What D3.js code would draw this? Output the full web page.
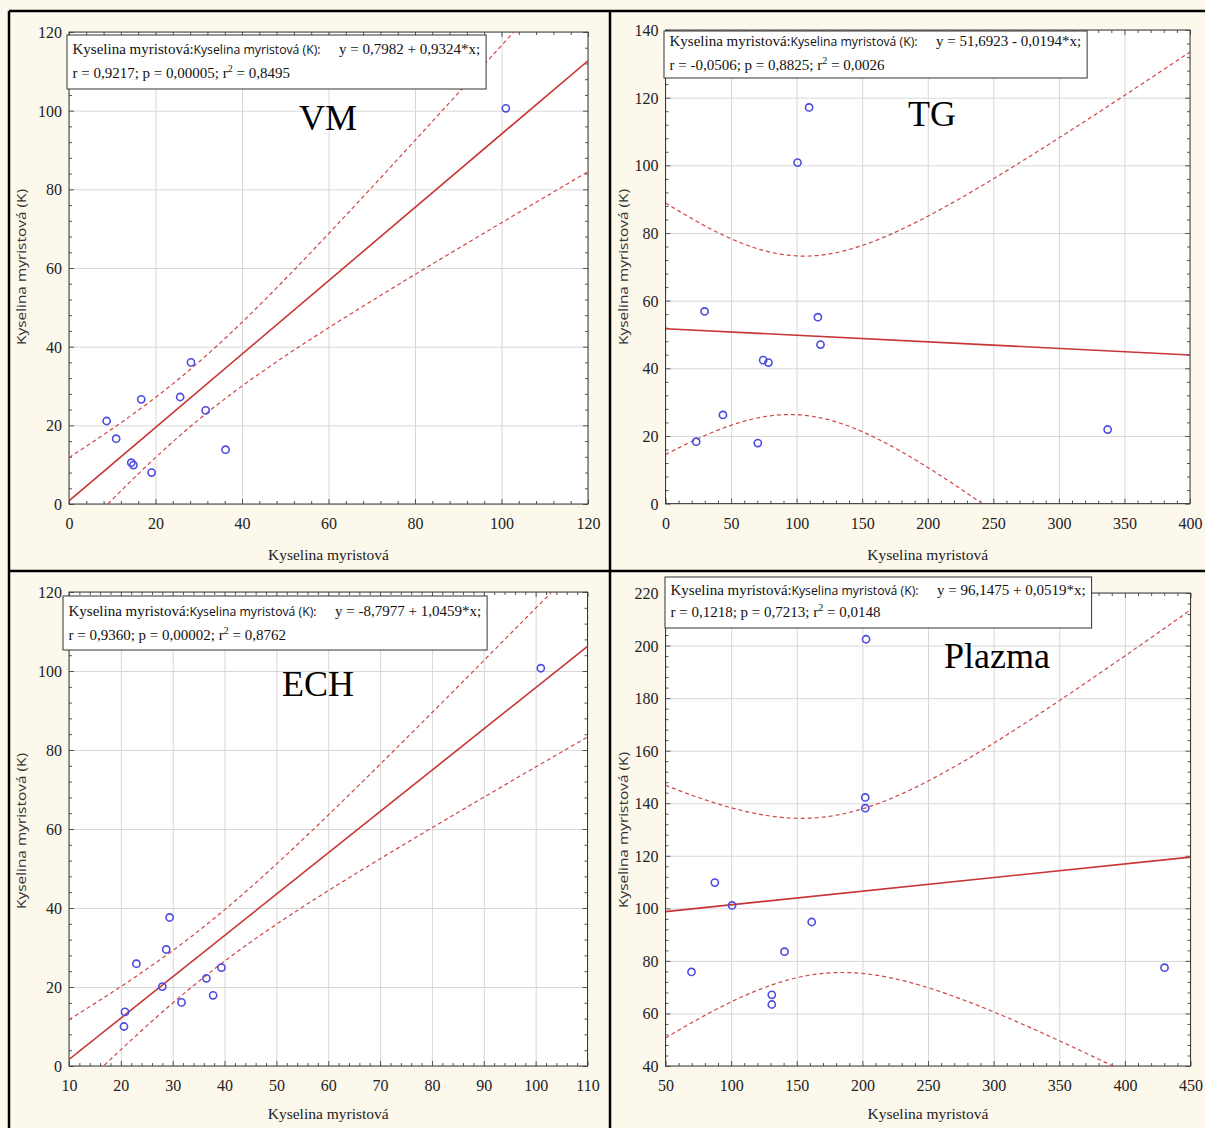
<!DOCTYPE html>
<html>
<head>
<meta charset="utf-8">
<script src="https://cdn.jsdelivr.net/npm/d3@7"></script>
<style>
  html, body { margin: 0; padding: 0; background: #fdf8ec; }
  svg { display: block; }
</style>
</head>
<body>
<svg id="chart" width="1205" height="1128"></svg>
<script>
// Kyselina myristová – paired values (x: compartment, y: K) for each panel
const vmX  = [8.7, 10.9, 14.4, 14.9, 16.7, 19.1, 25.7, 28.2, 31.6, 36.2, 101.0];
const vmY  = [21.1, 16.6, 10.5, 9.9, 26.6, 8.0, 27.2, 36.0, 23.8, 13.8, 100.6];
const tgX  = [23.4, 29.8, 43.8, 70.4, 74.5, 78.5, 100.7, 109.5, 116.2, 118.2, 337.2];
const tgY  = [18.3, 56.8, 26.2, 17.9, 42.4, 41.7, 100.8, 117.1, 55.1, 47.0, 21.9];
const echX = [20.6, 20.8, 23.0, 28.0, 28.75, 29.4, 31.7, 36.5, 37.8, 39.4, 101.0];
const echY = [10.0, 13.7, 25.9, 20.1, 29.5, 37.6, 16.1, 22.2, 17.9, 24.9, 100.7];
const plX  = [69.8, 87.6, 100.7, 131.0, 131.0, 140.7, 161.4, 202.2, 202.2, 202.8, 430.2];
const plY  = [75.8, 109.8, 101.1, 67.1, 63.4, 83.5, 94.8, 138.1, 142.2, 202.4, 77.4];

// Panel names and regression results
const panelNames = ["VM", "TG", "ECH", "Plazma"];
const intercepts = [0.7982, 51.6923, -8.7977, 96.1475];
const slopes     = [0.9324, -0.0194, 1.0459, 0.0519];
const equations  = ["y = 0,7982 + 0,9324*x;", "y = 51,6923 - 0,0194*x;",
                    "y = -8,7977 + 1,0459*x;", "y = 96,1475 + 0,0519*x;"];
const rValues    = ["0,9217", "-0,0506", "0,9360", "0,1218"];
const pValues    = ["0,00005", "0,8825", "0,00002", "0,7213"];
const r2Values   = ["0,8495", "0,0026", "0,8762", "0,0148"];

// Axis ticks
const vmXTicks  = [0, 20, 40, 60, 80, 100, 120];
const vmYTicks  = [0, 20, 40, 60, 80, 100, 120];
const tgXTicks  = [0, 50, 100, 150, 200, 250, 300, 350, 400];
const tgYTicks  = [0, 20, 40, 60, 80, 100, 120, 140];
const echXTicks = [10, 20, 30, 40, 50, 60, 70, 80, 90, 100, 110];
const echYTicks = [0, 20, 40, 60, 80, 100, 120];
const plXTicks  = [50, 100, 150, 200, 250, 300, 350, 400, 450];
const plYTicks  = [40, 60, 80, 100, 120, 140, 160, 180, 200, 220];

const xLabel = "Kyselina myristová";
const yLabel = "Kyselina myristová (K)";
const legendHead = "Kyselina myristová:";
const legendSans = "Kyselina myristová (K):";

const seriesX = [vmX, tgX, echX, plX];
const seriesY = [vmY, tgY, echY, plY];
const xTickSets = [vmXTicks, tgXTicks, echXTicks, plXTicks];
const yTickSets = [vmYTicks, tgYTicks, echYTicks, plYTicks];

// Layout of each panel (pixel frame of the plot area, legend box, title)
const layout = [
  { plot: [69, 32, 588, 504],      box: [67, 35, 54],   b1: 19,  b2: 43, title: [328, 130],  ylab: [21, 267],  xlabY: 560 },
  { plot: [665.5, 30, 1190, 503.6], box: [664, 31, 47],  b1: 15,  b2: 39, title: [932, 125.5], ylab: [623, 267], xlabY: 560 },
  { plot: [69, 592, 587.5, 1066],  box: [63, 596, 54],  b1: 20,  b2: 44, title: [318, 696],  ylab: [21, 831],  xlabY: 1119 },
  { plot: [665.5, 593, 1190.5, 1066], box: [665, 577, 51], b1: 18, b2: 40, title: [997, 668], ylab: [623, 830], xlabY: 1119 }
];

const SERIF = "'Liberation Serif', 'Times New Roman', serif";
const SANS = "'Open Sans', 'Noto Sans', 'DejaVu Sans', sans-serif";
const T975 = 2.2622; // Student t, 0.975 quantile, 9 degrees of freedom

const svg = d3.select("#chart");

// page background
svg.append("rect").attr("width", 1205).attr("height", 1128).attr("fill", "#fdf8ec");

// 95% confidence band of the fitted mean, evaluated across the x domain
function confidenceBand(xs, ys, a, b, domain, sign) {
  const n = xs.length;
  const xm = d3.mean(xs);
  const sxx = d3.sum(xs, x => (x - xm) ** 2);
  const sse = d3.sum(xs, (x, i) => (ys[i] - (a + b * x)) ** 2);
  const s = Math.sqrt(sse / (n - 2));
  const steps = 240;
  return d3.range(steps + 1).map(k => {
    const x = domain[0] + (domain[1] - domain[0]) * k / steps;
    const se = s * Math.sqrt(1 / n + (x - xm) ** 2 / sxx);
    return [x, a + b * x + sign * T975 * se];
  });
}

panelNames.forEach((name, i) => {
  const L = layout[i];
  const [x0, y0, x1, y1] = L.plot;
  const xt = xTickSets[i], yt = yTickSets[i];
  const xDom = [xt[0], xt[xt.length - 1]];
  const yDom = [yt[0], yt[yt.length - 1]];
  const x = d3.scaleLinear().domain(xDom).range([x0, x1]);
  const y = d3.scaleLinear().domain(yDom).range([y1, y0]);
  const g = svg.append("g");

  // plot area
  g.append("rect").attr("x", x0).attr("y", y0).attr("width", x1 - x0).attr("height", y1 - y0)
    .attr("fill", "#ffffff");

  const clipId = "clip" + i;
  svg.append("clipPath").attr("id", clipId).append("rect")
    .attr("x", x0).attr("y", y0).attr("width", x1 - x0).attr("height", y1 - y0);

  // grid
  g.append("g").attr("transform", `translate(0,${y1})`)
    .call(d3.axisBottom(x).tickValues(xt).tickSize(-(y1 - y0)).tickFormat(""))
    .call(a => a.select(".domain").remove())
    .call(a => a.selectAll("line").attr("stroke", "#d8d8d8").attr("stroke-width", 1));
  g.append("g").attr("transform", `translate(${x0},0)`)
    .call(d3.axisLeft(y).tickValues(yt).tickSize(-(x1 - x0)).tickFormat(""))
    .call(a => a.select(".domain").remove())
    .call(a => a.selectAll("line").attr("stroke", "#d8d8d8").attr("stroke-width", 1));

  // minor ticks (5 per major interval) on all four sides, pointing inward
  const minorX = [], minorY = [];
  for (let k = 0; k < xt.length - 1; k++)
    for (let m = 1; m < 5; m++) minorX.push(xt[k] + (xt[k + 1] - xt[k]) * m / 5);
  for (let k = 0; k < yt.length - 1; k++)
    for (let m = 1; m < 5; m++) minorY.push(yt[k] + (yt[k + 1] - yt[k]) * m / 5);
  const tickCol = "#555";
  const addTicks = (axis, tr, vals, size) => {
    g.append("g").attr("transform", tr)
      .call(axis.tickValues(vals).tickSize(size).tickFormat(""))
      .call(a => a.select(".domain").remove())
      .call(a => a.selectAll("line").attr("stroke", tickCol).attr("stroke-width", 1));
  };
  addTicks(d3.axisTop(x), `translate(0,${y1})`, minorX, 3);
  addTicks(d3.axisBottom(x), `translate(0,${y0})`, minorX, 3);
  addTicks(d3.axisRight(y), `translate(${x0},0)`, minorY, 3);
  addTicks(d3.axisLeft(y), `translate(${x1},0)`, minorY, 3);
  addTicks(d3.axisTop(x), `translate(0,${y1})`, xt, 5);
  addTicks(d3.axisBottom(x), `translate(0,${y0})`, xt, 5);
  addTicks(d3.axisRight(y), `translate(${x0},0)`, yt, 5);
  addTicks(d3.axisLeft(y), `translate(${x1},0)`, yt, 5);

  // frame
  g.append("rect").attr("x", x0).attr("y", y0).attr("width", x1 - x0).attr("height", y1 - y0)
    .attr("fill", "none").attr("stroke", "#3a3a3a").attr("stroke-width", 1);

  // tick labels
  g.append("g").attr("transform", `translate(0,${y1})`)
    .call(d3.axisBottom(x).tickValues(xt).tickSize(0).tickPadding(0).tickFormat(d3.format("d")))
    .call(a => a.select(".domain").remove())
    .call(a => a.selectAll("text").attr("y", 25).attr("dy", null)
      .attr("font-family", SERIF).attr("font-size", 16).attr("fill", "#222"));
  g.append("g").attr("transform", `translate(${x0},0)`)
    .call(d3.axisLeft(y).tickValues(yt).tickSize(0).tickPadding(7).tickFormat(d3.format("d")))
    .call(a => a.select(".domain").remove())
    .call(a => a.selectAll("text").attr("dy", "0.34em")
      .attr("font-family", SERIF).attr("font-size", 16).attr("fill", "#222"));

  // axis titles
  g.append("text").attr("x", (x0 + x1) / 2).attr("y", L.xlabY).attr("text-anchor", "middle")
    .attr("font-family", SERIF).attr("font-size", 15.5).attr("fill", "#222").text(xLabel);
  g.append("text").attr("transform", `translate(${L.ylab[0]},${L.ylab[1]}) rotate(-90)`)
    .attr("text-anchor", "middle").attr("dy", "0.35em")
    .attr("font-family", SANS).attr("font-size", 13.5).attr("fill", "#333")
    .attr("textLength", 156).attr("lengthAdjust", "spacingAndGlyphs").text(yLabel);

  const a = intercepts[i], b = slopes[i];
  const line = d3.line().x(d => x(d[0])).y(d => y(d[1]));
  const marks = g.append("g").attr("clip-path", `url(#${clipId})`);

  // confidence band
  [1, -1].forEach(sign => {
    marks.append("path").datum(confidenceBand(seriesX[i], seriesY[i], a, b, xDom, sign))
      .attr("d", line).attr("fill", "none").attr("stroke", "#cf4646")
      .attr("stroke-width", 1.2).attr("stroke-dasharray", "4,3");
  });
  // fitted line
  marks.append("path").datum(xDom.map(v => [v, a + b * v]))
    .attr("d", line).attr("fill", "none").attr("stroke", "#c93434").attr("stroke-width", 1.6);

  // observations
  marks.selectAll("circle").data(seriesX[i].map((v, k) => [v, seriesY[i][k]])).join("circle")
    .attr("cx", d => x(d[0])).attr("cy", d => y(d[1])).attr("r", 3.6)
    .attr("fill", "none").attr("stroke", "#4b4be0").attr("stroke-width", 1.6);

  // panel title
  g.append("text").attr("x", L.title[0]).attr("y", L.title[1]).attr("text-anchor", "middle")
    .attr("font-family", SERIF).attr("font-size", 36).attr("fill", "#000").text(name);

  // regression legend box
  const [bx, by, bh] = L.box;
  const box = g.append("rect").attr("x", bx).attr("y", by).attr("height", bh)
    .attr("fill", "#ffffff").attr("stroke", "#333").attr("stroke-width", 1);
  const t1 = bx + 5.5;
  g.append("text").attr("x", t1).attr("y", by + L.b1)
    .attr("font-family", SERIF).attr("font-size", 15).attr("fill", "#111").text(legendHead);
  g.append("text").attr("x", bx + 126.5).attr("y", by + L.b1)
    .attr("font-family", SANS).attr("font-size", 12.5).attr("fill", "#111")
    .attr("textLength", 127).attr("lengthAdjust", "spacingAndGlyphs").text(legendSans);
  const eq = g.append("text").attr("x", bx + 272).attr("y", by + L.b1)
    .attr("font-family", SERIF).attr("font-size", 15).attr("fill", "#111").text(equations[i]);
  const l2 = g.append("text").attr("x", t1).attr("y", by + L.b2)
    .attr("font-family", SERIF).attr("font-size", 15).attr("fill", "#111");
  l2.append("tspan").text(`r = ${rValues[i]}; p = ${pValues[i]}; r`);
  l2.append("tspan").attr("dy", -6).attr("font-size", 10).text("2");
  l2.append("tspan").attr("dy", 6).text(` = ${r2Values[i]}`);
  const eqEnd = bx + 272 + eq.node().getComputedTextLength();
  box.attr("width", eqEnd + 6 - bx);
});

// panel dividers and outer frame
const frame = svg.append("g").attr("stroke", "#000").attr("stroke-width", 2.5);
frame.append("line").attr("x1", 9).attr("y1", 11).attr("x2", 1205).attr("y2", 11);
frame.append("line").attr("x1", 9).attr("y1", 11).attr("x2", 9).attr("y2", 1128);
frame.append("line").attr("x1", 610).attr("y1", 11).attr("x2", 610).attr("y2", 1128);
frame.append("line").attr("x1", 9).attr("y1", 571).attr("x2", 1205).attr("y2", 571);
</script>
</body>
</html>
